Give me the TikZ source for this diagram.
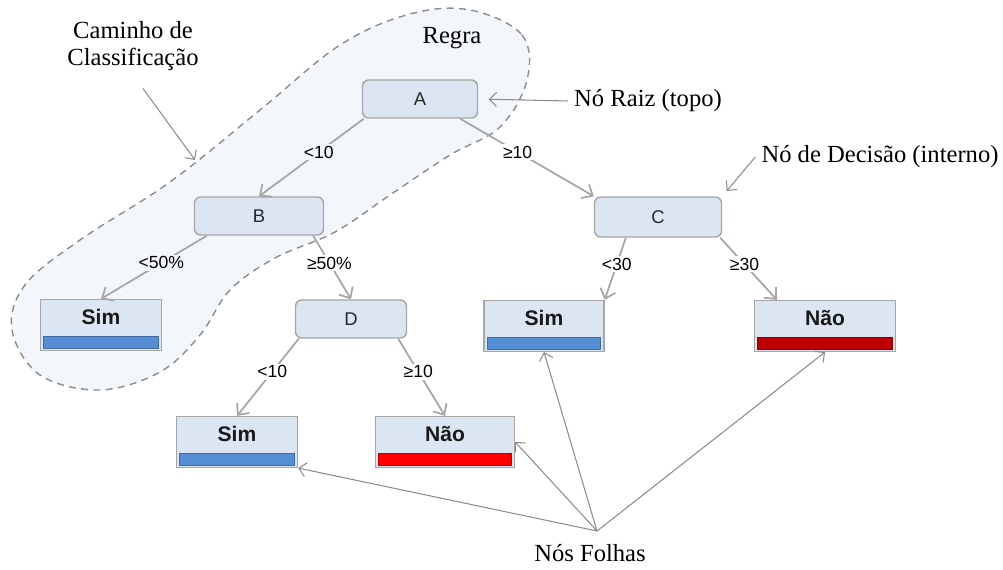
\documentclass[tikz,border=0pt]{standalone}
\usepackage{fontspec}
\setmainfont{Liberation Serif}
\newfontfamily\treefont{Liberation Sans}
\usepackage{tikz}
\usetikzlibrary{arrows.meta}
\usetikzlibrary{positioning}
\definecolor{boxfill}{HTML}{DCE6F2}
\definecolor{boxline}{HTML}{A6A6A6}
\definecolor{blobfill}{HTML}{F3F7FB}
\definecolor{edgegray}{HTML}{A6A6A6}
\definecolor{notegray}{HTML}{8C8C8C}
\definecolor{barblue}{HTML}{558ED5}
\definecolor{bardarkred}{HTML}{C00000}
\definecolor{barred}{HTML}{FF0000}
\tikzset{
  decision/.style={draw=boxline, fill=boxfill, rounded corners=3.5pt, line width=0.8pt, minimum height=0.76cm, font=\treefont\fontsize{10.5}{12}\selectfont, text=black!85},
  leaf/.style={draw=boxline, fill=boxfill, line width=0.8pt, minimum width=2.42cm, inner ysep=2pt, text height=12.4pt, text depth=12.5pt, font=\treefont\bfseries\fontsize{12}{14}\selectfont, text=black!90},
  branch/.style={draw=edgegray, line width=1pt, -{Straight Barb[length=5pt,width=9pt,line width=1pt]}},
  cond/.style={pos=.43, fill=white, inner sep=1pt, font=\treefont\fontsize{10}{12}\selectfont},
  note/.style={draw=notegray, line width=0.6pt, -{Straight Barb[length=4pt,width=8pt]}},
  notetext/.style={font=\fontsize{14}{15}\selectfont, align=center},
  blob/.style={draw=notegray, dash pattern=on 4pt off 3pt, fill=blobfill, line width=0.8pt},
}

\begin{document}
\begin{tikzpicture}[x=0.02cm, y=-0.02cm]
        \useasboundingbox (0,0) rectangle (1003,570);

        % Rule region
        \draw[blob] plot[smooth cycle, tension=0.6] coordinates {(470,10) (522,35) (527,80) (500,127) (450,155) (390,195) (335,232) (275,258) (230,290) (200,335) (160,372) (100,390) (40,375) (12,330) (25,285) (80,240) (170,182) (260,110) (340,45) (410,14)};

        % Decision nodes
        \node[decision, minimum width=2.3cm] (node_A) at (420,99) {A};
        \node[decision, minimum width=2.58cm] (node_B) at (259,216) {B};
        \node[decision, minimum width=2.54cm, minimum height=0.8cm] (node_C) at (658,217) {C};
        \node[decision, minimum width=2.22cm] (node_D) at (351,319) {D};

        % Leaves
        \node[leaf] (leaf_sim1) at (101,325) {Sim};
        \node[leaf, minimum width=2.4cm] (leaf_sim2) at (544,326) {Sim};
        \node[leaf, minimum width=2.82cm] (leaf_nao1) at (825,326) {Não};
        \node[leaf] (leaf_sim3) at (237,442) {Sim};
        \node[leaf, minimum width=2.78cm] (leaf_nao2) at (445,442) {Não};

        \filldraw[fill=barblue, draw=barblue!75!black, line width=0.4pt] ([shift={(4,-3)}]leaf_sim1.south west) rectangle ([shift={(-4,-15)}]leaf_sim1.south east);
        \filldraw[fill=barblue, draw=barblue!75!black, line width=0.4pt] ([shift={(4,-3)}]leaf_sim2.south west) rectangle ([shift={(-4,-15)}]leaf_sim2.south east);
        \filldraw[fill=bardarkred, draw=bardarkred!75!black, line width=0.4pt] ([shift={(4,-3)}]leaf_nao1.south west) rectangle ([shift={(-4,-15)}]leaf_nao1.south east);
        \filldraw[fill=barblue, draw=barblue!75!black, line width=0.4pt] ([shift={(4,-3)}]leaf_sim3.south west) rectangle ([shift={(-4,-15)}]leaf_sim3.south east);
        \filldraw[fill=barred, draw=barred!75!black, line width=0.4pt] ([shift={(4,-3)}]leaf_nao2.south west) rectangle ([shift={(-4,-15)}]leaf_nao2.south east);

        % Branches
        \draw[branch] ([shift={(2,0)}]node_A.south west) -- node[cond, fill=blobfill] {<10} (node_B.north);
        \draw[branch] ([shift={(-18,0)}]node_A.south east) -- node[cond] {≥10} (node_C.north west);
        \draw[branch] ([shift={(13,0)}]node_B.south west) -- node[cond, fill=blobfill] {<50\%} (leaf_sim1.north);
        \draw[branch] ([shift={(-11,0)}]node_B.south east) -- node[cond] {≥50\%} (node_D.north);
        \draw[branch] ([shift={(32,0)}]node_C.south west) -- node[cond] {<30} (leaf_sim2.north east);
        \draw[branch] ([shift={(-2,0)}]node_C.south east) -- node[cond] {≥30} ([shift={(23,0)}]leaf_nao1.north west);
        \draw[branch] ([shift={(4,0)}]node_D.south west) -- node[cond] {<10} (leaf_sim3.north);
        \draw[branch] ([shift={(-9,0)}]node_D.south east) -- node[cond] {≥10} (leaf_nao2.north);

        % Annotations
        \node[notetext] (path_lbl) at (133,46) {Caminho de\\Classificação};
        \coordinate (path_tip) at (195,160);
        \draw[note] ([shift={(10,12)}]path_lbl.south) -- (path_tip);

        \node[notetext] (rule_lbl) at (452,38) {Regra};

        \node[notetext] (root_lbl) at (648,101) {Nó Raiz (topo)};
        \draw[note, shorten >=6pt] (root_lbl.west) -- (node_A.east);

        \node[notetext] (decision_lbl) at (880,157) {Nó de Decisão (interno)};
        \draw[note, shorten >=4pt] (decision_lbl.west) -- (node_C.north east);

        \node[notetext] (leaves_lbl) at (590,553) {Nós Folhas};
        \coordinate (leaves_pt) at (597,531);
        \draw[note] (leaves_pt) -- (leaf_sim3.south east);
        \draw[note] (leaves_pt) -- (leaf_nao2.east);
        \draw[note] (leaves_pt) -- (leaf_sim2.south);
        \draw[note] (leaves_pt) -- (leaf_nao1.south);
\end{tikzpicture}
\end{document}
